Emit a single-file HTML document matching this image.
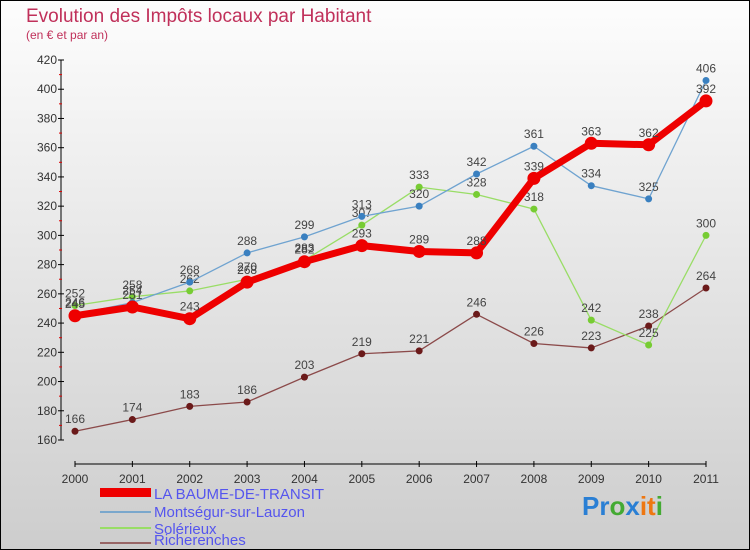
<!DOCTYPE html>
<html><head><meta charset="utf-8"><style>
body{margin:0;}
svg{display:block;font-family:"Liberation Sans",sans-serif;}
</style></head><body>
<svg id="c" width="750" height="550" xmlns="http://www.w3.org/2000/svg">
<defs><linearGradient id="bg" x1="0" y1="0" x2="0" y2="1"><stop offset="0" stop-color="#fdfdfd"/><stop offset="1" stop-color="#cdcdcd"/></linearGradient></defs>
<rect x="0.5" y="0.5" width="749" height="549" fill="url(#bg)" stroke="#000"/>
<text x="26" y="22" font-size="19" fill="#c0305a">Evolution des Impôts locaux par Habitant</text>
<text x="26" y="39" font-size="12" fill="#c0305a">(en € et par an)</text>
<g id="axes"></g><g id="series"></g>
<g>
<rect x="100" y="488" width="51" height="9" fill="#e00"/>
<text x="154" y="499" font-size="15" fill="#5555ee">LA BAUME-DE-TRANSIT</text>
<line x1="100" y1="512" x2="151" y2="512" stroke="#7aa7cc" stroke-width="2"/>
<text x="154" y="517" font-size="15" fill="#5555ee">Montségur-sur-Lauzon</text>
<line x1="100" y1="528" x2="151" y2="528" stroke="#99dd66" stroke-width="2"/>
<text x="154" y="534" font-size="15" fill="#5555ee">Solérieux</text>
<line x1="100" y1="543" x2="151" y2="543" stroke="#996666" stroke-width="2"/>
<text x="154" y="545" font-size="15" fill="#5555ee">Richerenches</text>
</g>
<text x="582" y="515" font-size="26" font-weight="bold"><tspan fill="#2a7fd4">Pr</tspan><tspan fill="#44aa33">o</tspan><tspan fill="#2a7fd4">x</tspan><tspan fill="#ee7711">it</tspan><tspan fill="#44aa33">i</tspan></text>
</svg>
<script>
const years=[2000,2001,2002,2003,2004,2005,2006,2007,2008,2009,2010,2011];
const baume=[245,251,243,268,282,293,289,288,339,363,362,392];
const montsegur=[246,254,268,288,299,313,320,342,361,334,325,406];
const solerieux=[252,258,262,270,283,307,333,328,318,242,225,300];
const richerenches=[166,174,183,186,203,219,221,246,226,223,238,264];
const yTicks=[160,180,200,220,240,260,280,300,320,340,360,380,400,420];
const NS="http://www.w3.org/2000/svg";
const X=i=>75+i*(706-75)/11;
const Y=v=>440-(v-160)*(380/260);
function mk(t,a,p){const e=document.createElementNS(NS,t);for(const k in a)e.setAttribute(k,a[k]);p.appendChild(e);return e;}
const ax=document.getElementById('axes');
let yl=mk('line',{x1:61,y1:Y(420),x2:61,y2:Y(160),stroke:'#000','stroke-width':1},ax);


let xl=mk('line',{x1:75,y1:464,x2:706,y2:464,stroke:'#000','stroke-width':1},ax);


yTicks.forEach((v,i)=>{
 mk('line',{x1:58,y1:Y(v),x2:64,y2:Y(v),stroke:'#000'},ax);
 if(i<yTicks.length-1)mk('line',{x1:59,y1:Y(v+10),x2:62,y2:Y(v+10),stroke:'#d00'},ax);
 const t=mk('text',{x:57,y:Y(v)+4,'font-size':12,fill:'#333','text-anchor':'end'},ax);t.textContent=v;
 
 
});
years.forEach((y,i)=>{
 mk('line',{x1:X(i),y1:461,x2:X(i),y2:467,stroke:'#000'},ax);
 const t=mk('text',{x:X(i),y:483,'font-size':12,fill:'#333','text-anchor':'middle'},ax);t.textContent=y;
 
 
});
const sg=document.getElementById('series');
function draw(data,color,w,r,dot,name){
 const g=mk('g',{},sg);
 
 
 mk('polyline',{points:data.map((v,i)=>X(i)+','+Y(v)).join(' '),fill:'none',stroke:color,'stroke-width':w,'stroke-linejoin':'round'},g);
 data.forEach((v,i)=>{
  const c=mk('circle',{cx:X(i),cy:Y(v),r:r,fill:dot},g);
  
  
  const t=mk('text',{x:X(i),y:Y(v)-8,'font-size':12,fill:'#444','text-anchor':'middle'},g);t.textContent=v;
  
  
 });
}
draw(richerenches,'#8b4a4a',1.3,3.5,'#6b1a1a','series-richerenches');
draw(solerieux,'#99dd66',1.3,3.5,'#77cc33','series-solerieux');
draw(montsegur,'#6fa3d0',1.3,3.5,'#3a80c0','series-montsegur');
draw(baume,'#ee0000',7,6.5,'#ee0000','series-baume');
</script>
</body></html>
